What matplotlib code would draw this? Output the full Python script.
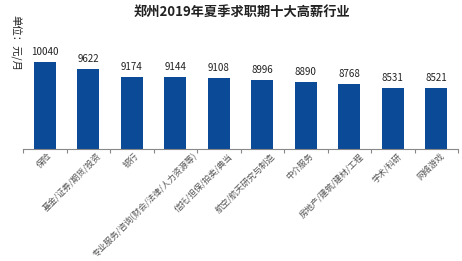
import matplotlib.pyplot as plt
import numpy as np

plt.rcParams['font.family'] = ['Noto Sans CJK SC', 'DejaVu Sans']

industries = ['保险', '基金/证券/期货/投资', '银行', '专业服务/咨询(财会/法律/人力资源等)',
              '信托/担保/拍卖/典当', '航空/航天研究与制造', '中介服务',
              '房地产/建筑/建材/工程', '学术/科研', '网络游戏']
salaries = [10040, 9622, 9174, 9144, 9108, 8996, 8890, 8768, 8531, 8521]

fig = plt.figure(figsize=(4.62, 2.61), dpi=100)
ax = fig.add_axes([23 / 462, 1 - 149 / 261, 435 / 462, 104 / 261])

x = np.arange(len(salaries))
ax.bar(x, salaries, width=0.5, color='#0b4a97', zorder=2)
for xi, v in zip(x, salaries):
    ax.text(xi, v + 280, str(v), ha='center', va='bottom', fontsize=7, color='#222222')

ax.set_xlim(-0.5, len(salaries) - 0.5)
ax.set_ylim(5000, 11000)
ax.set_yticks([])
for s in ['top', 'right', 'left']:
    ax.spines[s].set_visible(False)
ax.spines['bottom'].set_color('#888888')
ax.spines['bottom'].set_linewidth(0.8)

ax.set_xticks(np.arange(len(salaries) + 1) - 0.5)
ax.set_xticklabels([])
ax.tick_params(axis='x', length=3, color='#888888', width=0.8)
# long labels sit a bit further right, like in the original
for xi, name in zip(x, industries):
    shift = 0.02 * max(len(name) - 3, 0)
    ax.text(xi + 0.05 + shift, 4870, name, rotation=45, ha='right', va='top',
            rotation_mode='anchor', fontsize=6.1, color='#555555')

fig.text(242 / 462, 1 - 12 / 261, '郑州2019年夏季求职期十大高薪行业', ha='center', va='center',
         fontsize=9.5, fontweight='bold', color='#222222')
fig.text(15 / 462, 1 - 43 / 261, '单位：元/月', rotation=270, ha='center', va='center',
         fontsize=7.5, color='#222222')

fig.savefig('out.png', dpi=100)
